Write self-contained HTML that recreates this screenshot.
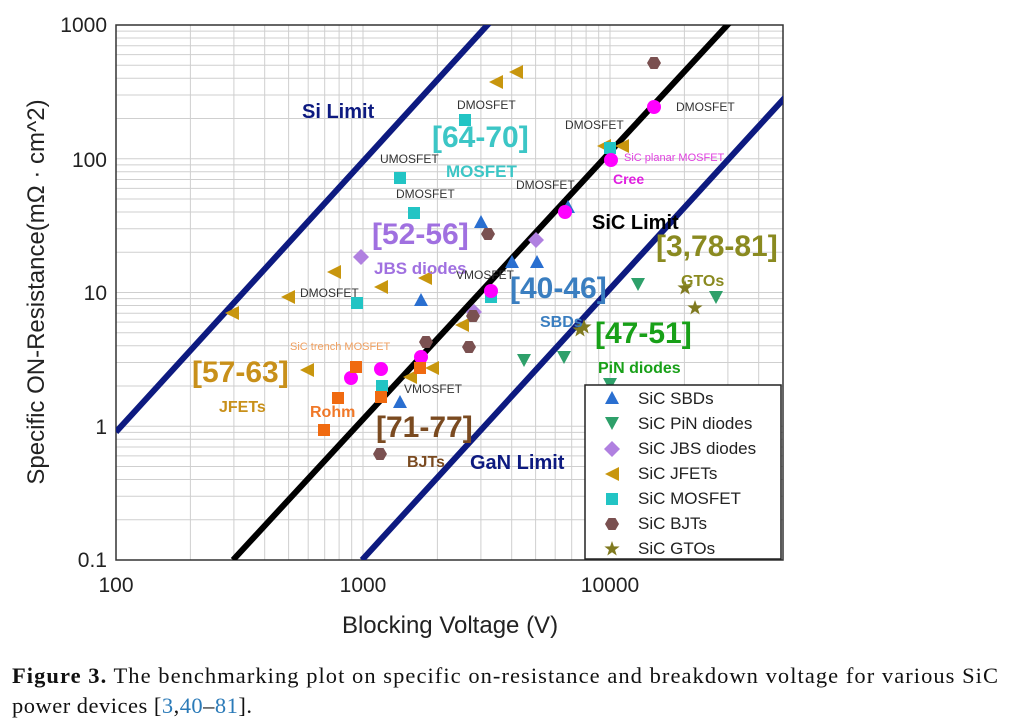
<!DOCTYPE html><html><head><style>body{margin:0;background:#fff}svg{display:block}</style></head><body>
<svg width="1011" height="727" xmlns="http://www.w3.org/2000/svg" xmlns:xlink="http://www.w3.org/1999/xlink" font-family="Liberation Sans, sans-serif">
<defs>
<clipPath id="c"><rect x="116" y="25" width="667" height="535"/></clipPath>
<polygon id="tri" points="0,-7 -7,6 7,6"/>
<polygon id="dtri" points="0,7 -7,-6 7,-6"/>
<polygon id="dia" points="0,-8 8,0 0,8 -8,0"/>
<polygon id="lt" points="-7,0 7,-7 7,7"/>
<rect id="sq" x="-6" y="-6" width="12" height="12"/>
<polygon id="hex" points="7,0 3.5,6.06 -3.5,6.06 -7,0 -3.5,-6.06 3.5,-6.06"/>
<polygon id="star" points="0,-8 1.88,-2.59 7.61,-2.47 3.04,0.99 4.7,6.47 0,3.2 -4.7,6.47 -3.04,0.99 -7.61,-2.47 -1.88,-2.59"/>
<circle id="ci" r="7"/>
</defs>
<path stroke="#cfcfcf" stroke-width="1" fill="none" d="M190.4 25V560M233.9 25V560M264.7 25V560M288.6 25V560M308.2 25V560M324.7 25V560M339.1 25V560M351.7 25V560M363 25V560M437.4 25V560M480.9 25V560M511.7 25V560M535.6 25V560M555.2 25V560M571.7 25V560M586.1 25V560M598.7 25V560M610 25V560M684.4 25V560M727.9 25V560M758.7 25V560
M116 519.7H783M116 496.2H783M116 479.5H783M116 466.5H783M116 455.9H783M116 447H783M116 439.2H783M116 432.4H783M116 426.25H783
M116 385.95H783M116 362.45H783M116 345.75H783M116 332.75H783M116 322.15H783M116 313.25H783M116 305.45H783M116 298.65H783M116 292.5H783
M116 252.2H783M116 228.7H783M116 212H783M116 199H783M116 188.4H783M116 179.5H783M116 171.7H783M116 164.9H783M116 158.75H783
M116 118.45H783M116 94.95H783M116 78.25H783M116 65.25H783M116 54.65H783M116 45.75H783M116 37.95H783M116 31.15H783"/>
<rect x="116" y="25" width="667" height="535" fill="none" stroke="#333" stroke-width="1.5"/>
<g clip-path="url(#c)" stroke-width="6">
<line x1="116" y1="432" x2="492" y2="20" stroke="#0d1a80"/>
<line x1="233" y1="560" x2="732" y2="20" stroke="#000"/>
<line x1="362" y1="560" x2="790" y2="92" stroke="#0d1a80"/>
</g>
<g font-size="21" fill="#222" text-anchor="end">
<text x="107" y="32">1000</text><text x="107" y="167">100</text><text x="107" y="300">10</text><text x="107" y="434">1</text><text x="107" y="567">0.1</text></g>
<g font-size="21" fill="#222" text-anchor="middle">
<text x="116" y="592">100</text><text x="363" y="592">1000</text><text x="610" y="592">10000</text></g>
<text x="450" y="633" font-size="24" text-anchor="middle" fill="#222">Blocking Voltage (V)</text>
<text transform="translate(44,292) rotate(-90)" font-size="24" text-anchor="middle" fill="#222">Specific ON-Resistance(mΩ · cm^2)</text>
<g fill="#2a6fd0"><use xlink:href="#tri" x="400" y="402"/><use xlink:href="#tri" x="421" y="300"/><use xlink:href="#tri" x="481" y="222"/><use xlink:href="#tri" x="512" y="262"/><use xlink:href="#tri" x="537" y="262"/><use xlink:href="#tri" x="568" y="207"/></g>
<g fill="#2ea06a"><use xlink:href="#dtri" x="524" y="360"/><use xlink:href="#dtri" x="564" y="357"/><use xlink:href="#dtri" x="610" y="384"/><use xlink:href="#dtri" x="638" y="284"/><use xlink:href="#dtri" x="716" y="297"/></g>
<g fill="#b080e0"><use xlink:href="#dia" x="361" y="257"/><use xlink:href="#dia" x="536" y="240"/><use xlink:href="#dia" x="474" y="312"/></g>
<g fill="#c8960e"><use xlink:href="#lt" x="232" y="313"/><use xlink:href="#lt" x="288" y="297"/><use xlink:href="#lt" x="334" y="272"/><use xlink:href="#lt" x="381" y="287"/><use xlink:href="#lt" x="425" y="278"/><use xlink:href="#lt" x="307" y="370"/><use xlink:href="#lt" x="462" y="325"/><use xlink:href="#lt" x="432" y="368"/><use xlink:href="#lt" x="410" y="377"/><use xlink:href="#lt" x="496" y="82"/><use xlink:href="#lt" x="516" y="72"/><use xlink:href="#lt" x="604" y="146"/><use xlink:href="#lt" x="622" y="146"/></g>
<g fill="#22c4c4"><use xlink:href="#sq" x="465" y="120"/><use xlink:href="#sq" x="400" y="178"/><use xlink:href="#sq" x="414" y="213"/><use xlink:href="#sq" x="357" y="303"/><use xlink:href="#sq" x="382" y="386"/><use xlink:href="#sq" x="491" y="297"/><use xlink:href="#sq" x="610" y="148"/></g>
<g fill="#7a5050"><use xlink:href="#hex" x="654" y="63"/><use xlink:href="#hex" x="488" y="234"/><use xlink:href="#hex" x="426" y="342"/><use xlink:href="#hex" x="469" y="347"/><use xlink:href="#hex" x="380" y="454"/><use xlink:href="#hex" x="473" y="316"/></g>
<g fill="#807a20"><use xlink:href="#star" x="685" y="288"/><use xlink:href="#star" x="695" y="308"/><use xlink:href="#star" x="584" y="327"/><use xlink:href="#star" x="580" y="330"/></g>
<g fill="#ff00ff"><use xlink:href="#ci" x="654" y="107"/><use xlink:href="#ci" x="611" y="160"/><use xlink:href="#ci" x="565" y="212"/><use xlink:href="#ci" x="491" y="291"/><use xlink:href="#ci" x="421" y="357"/><use xlink:href="#ci" x="381" y="369"/><use xlink:href="#ci" x="351" y="378"/></g>
<g fill="#f06a10"><use xlink:href="#sq" x="356" y="367"/><use xlink:href="#sq" x="338" y="398"/><use xlink:href="#sq" x="324" y="430"/><use xlink:href="#sq" x="381" y="397"/><use xlink:href="#sq" x="420" y="368"/></g>
<g font-weight="bold">
<text x="302" y="118" font-size="20" fill="#0d1a80">Si Limit</text>
<text x="592" y="229" font-size="20" fill="#000">SiC Limit</text>
<text x="470" y="469" font-size="20" fill="#0d1a80">GaN Limit</text>
<text x="432" y="147" font-size="30" fill="#3cc6c6">[64-70]</text>
<text x="446" y="177" font-size="17" fill="#3cc6c6">MOSFET</text>
<text x="372" y="244" font-size="30" fill="#a070e0">[52-56]</text>
<text x="374" y="274" font-size="17" fill="#a070e0">JBS diodes</text>
<text x="510" y="298" font-size="30" fill="#3a7ec0">[40-46]</text>
<text x="540" y="327" font-size="16" fill="#3a7ec0">SBDs</text>
<text x="595" y="343" font-size="30" fill="#18a018">[47-51]</text>
<text x="598" y="373" font-size="16" fill="#18a018">PiN diodes</text>
<text x="656" y="256" font-size="30" fill="#8a8a20">[3,78-81]</text>
<text x="681" y="286" font-size="16" fill="#8a8a20">GTOs</text>
<text x="192" y="382" font-size="30" fill="#c8901a">[57-63]</text>
<text x="219" y="412" font-size="16" fill="#c8901a">JFETs</text>
<text x="376" y="437" font-size="30" fill="#7a4a20">[71-77]</text>
<text x="407" y="467" font-size="16" fill="#7a4a20">BJTs</text>
<text x="310" y="417" font-size="16" fill="#f07828">Rohm</text>
<text x="613" y="184" font-size="14" fill="#e020e0">Cree</text>
</g>
<g font-size="12" fill="#333">
<text x="457" y="109">DMOSFET</text><text x="380" y="163">UMOSFET</text><text x="396" y="198">DMOSFET</text>
<text x="516" y="189">DMOSFET</text><text x="565" y="129">DMOSFET</text><text x="676" y="111">DMOSFET</text>
<text x="300" y="297">DMOSFET</text><text x="456" y="279">VMOSFET</text><text x="404" y="393">VMOSFET</text>
<text x="290" y="350" fill="#f0a060" font-size="11">SiC trench MOSFET</text>
<text x="624" y="161" fill="#e040e0" font-size="11">SiC planar MOSFET</text>
</g>
<rect x="585" y="385" width="196" height="174" fill="#fff" stroke="#222" stroke-width="1.5"/>
<use xlink:href="#tri" x="612" y="398" fill="#2a6fd0"/><use xlink:href="#dtri" x="612" y="423" fill="#2ea06a"/><use xlink:href="#dia" x="612" y="449" fill="#b080e0"/><use xlink:href="#lt" x="612" y="474" fill="#c8960e"/><use xlink:href="#sq" x="612" y="499" fill="#22c4c4"/><use xlink:href="#hex" x="612" y="524" fill="#7a5050"/><use xlink:href="#star" x="612" y="549" fill="#807a20"/>
<g font-size="17" fill="#222">
<text x="638" y="404">SiC SBDs</text><text x="638" y="429">SiC PiN diodes</text><text x="638" y="454">SiC JBS diodes</text>
<text x="638" y="479">SiC JFETs</text><text x="638" y="504">SiC MOSFET</text><text x="638" y="529">SiC BJTs</text><text x="638" y="554">SiC GTOs</text></g>
<text x="12" y="683" font-family="Liberation Serif, serif" font-size="22.5" fill="#111" textLength="986" lengthAdjust="spacing"><tspan font-weight="bold">Figure 3.</tspan> The benchmarking plot on specific on-resistance and breakdown voltage for various SiC</text>
<text x="12" y="713" font-family="Liberation Serif, serif" font-size="22.5" fill="#111" textLength="240" lengthAdjust="spacing">power devices [<tspan fill="#2a7ab8">3</tspan>,<tspan fill="#2a7ab8">40</tspan>–<tspan fill="#2a7ab8">81</tspan>].</text>
</svg></body></html>
